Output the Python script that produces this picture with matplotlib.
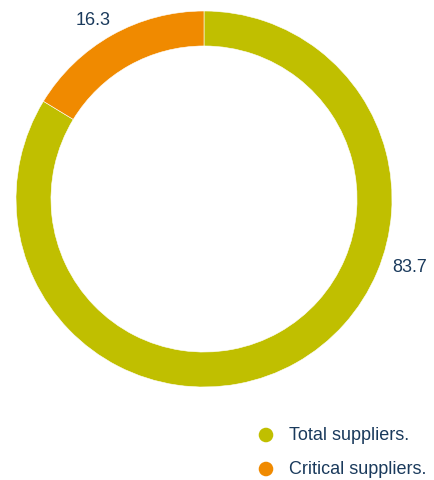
import matplotlib
matplotlib.use("Agg")
import matplotlib.pyplot as plt

plt.rcParams['font.family'] = ['Liberation Sans', 'DejaVu Sans']

labels = ["Total suppliers.", "Critical suppliers."]
values = [83.7, 16.3]
colors = ["#C0BF00", "#F08A00"]
text_color = "#1A3A5C"

fig = plt.figure(figsize=(4.34, 4.81), dpi=100)
ax = fig.add_axes([16 / 434, 93 / 481, 376 / 434, 376 / 481])
ax.pie(values, colors=colors, startangle=90, counterclock=False,
       wedgeprops=dict(width=0.186, edgecolor="white", linewidth=0.4))
ax.set_xlim(-1, 1)
ax.set_ylim(-1, 1)
ax.set_aspect("equal")

# value labels
ax.text(1.095, -0.36, f"{values[0]}", color=text_color, fontsize=13,
        ha="center", va="center")
ax.text(-0.59, 0.957, f"{values[1]}", color=text_color, fontsize=13,
        ha="center", va="center")

# legend
lax = fig.add_axes([0, 0, 1, 1])
lax.set_xlim(0, 434)
lax.set_ylim(481, 0)
lax.axis("off")
for k, (lab, col) in enumerate(zip(labels, colors)):
    y = 436 + 34 * k
    lax.scatter([266], [y], s=110, color=col, edgecolor="none")
    lax.text(289, y, lab, color=text_color, fontsize=13, va="center", ha="left")

fig.savefig("out.png", dpi=100)
